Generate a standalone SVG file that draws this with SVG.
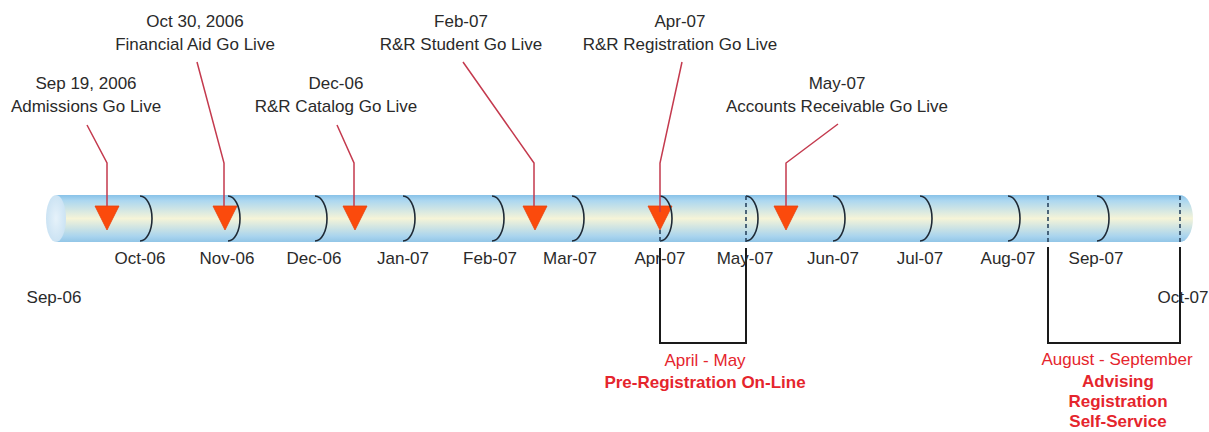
<svg xmlns="http://www.w3.org/2000/svg" width="1209" height="432" viewBox="0 0 1209 432">
  <style>
    .lbl { font-family: "Liberation Sans", Arial, sans-serif; font-size: 17px; fill: #2a2a2a; text-anchor: middle; }
    .red { font-family: "Liberation Sans", Arial, sans-serif; font-size: 17px; fill: #e5252d; text-anchor: middle; }
    .bold { font-weight: bold; }
    .divider { fill: none; stroke: #1f2a36; stroke-width: 1.6; }
    .dash { fill: none; stroke: #2a4560; stroke-width: 1.6; stroke-dasharray: 4 3; }
    .bracket { fill: none; stroke: #1a1a1a; stroke-width: 2; }
    .pointer { fill: none; stroke: #c43a4e; stroke-width: 1.5; }
    .marker { fill: #fb4a0c; stroke: #e8400a; stroke-width: 0.8; }
  </style>
  <defs>
    <linearGradient id="tubeFill" x1="0" y1="0" x2="0" y2="1">
      <stop offset="0" stop-color="#88c2e8"/>
      <stop offset="0.12" stop-color="#acd7f0"/>
      <stop offset="0.5" stop-color="#f5f4d8"/>
      <stop offset="0.88" stop-color="#a9d4ee"/>
      <stop offset="1" stop-color="#92c6e7"/>
    </linearGradient>
    <radialGradient id="capFill" cx="0.5" cy="0.5" r="0.6">
      <stop offset="0" stop-color="#e6f2fa"/>
      <stop offset="1" stop-color="#c6e0f2"/>
    </radialGradient>
  </defs>

  <rect width="1209" height="432" fill="#ffffff"/>

  <!-- timeline tube -->
  <g id="tube">
    <path d="M56,195 H1180 A13,23.5 0 0 1 1180,242 H56 Z" fill="url(#tubeFill)"/>
    <ellipse cx="56" cy="218.5" rx="10" ry="23.5" fill="url(#capFill)"/>
  </g>

  <!-- milestone markers -->
  <g id="markers">
    <polygon class="marker" points="95,206 119,206 107,230"/>
    <polygon class="marker" points="213,206 237,206 225,230"/>
    <polygon class="marker" points="343,206 367,206 355,230"/>
    <polygon class="marker" points="523,206 547,206 535,230"/>
    <polygon class="marker" points="648,206 672,206 660,230"/>
    <polygon class="marker" points="774,206 798,206 786,230"/>
  </g>

  <!-- month dividers -->
  <g id="dividers">
    <path class="divider" d="M140,196 A12,22.5 0 0 1 140,241"/>
    <path class="divider" d="M228,196 A12,22.5 0 0 1 228,241"/>
    <path class="divider" d="M315,196 A12,22.5 0 0 1 315,241"/>
    <path class="divider" d="M403,196 A12,22.5 0 0 1 403,241"/>
    <path class="divider" d="M492,196 A12,22.5 0 0 1 492,241"/>
    <path class="divider" d="M572,196 A12,22.5 0 0 1 572,241"/>
    <path class="divider" d="M660,196 A12,22.5 0 0 1 660,241"/>
    <path class="divider" d="M746,196 A12,22.5 0 0 1 746,241"/>
    <path class="divider" d="M833,196 A12,22.5 0 0 1 833,241"/>
    <path class="divider" d="M920,196 A12,22.5 0 0 1 920,241"/>
    <path class="divider" d="M1008,196 A12,22.5 0 0 1 1008,241"/>
    <path class="divider" d="M1097,196 A12,22.5 0 0 1 1097,241"/>
    <line class="dash" x1="660" y1="230" x2="660" y2="243"/>
    <line class="dash" x1="746" y1="196" x2="746" y2="243"/>
    <line class="dash" x1="1048" y1="196" x2="1048" y2="243"/>
    <line class="dash" x1="1180" y1="196" x2="1180" y2="243"/>
  </g>

  <!-- pointer connectors from labels to markers -->
  <g id="connectors">
    <polyline class="pointer" points="87,125 107,163 107,206"/>
    <polyline class="pointer" points="197,62 224,163 224,206"/>
    <polyline class="pointer" points="337,125 354,163 354,206"/>
    <polyline class="pointer" points="463,62 534,163 534,206"/>
    <polyline class="pointer" points="682,62 660,163 660,212"/>
    <polyline class="pointer" points="838,124 786,163 786,206"/>
  </g>

  <!-- period brackets -->
  <g id="brackets">
    <polyline class="bracket" points="660,248 660,343 746,343 746,248"/>
    <polyline class="bracket" points="1048,247 1048,343 1180,343 1180,247"/>
  </g>

  <!-- month labels -->
  <g id="months">
    <text class="lbl" x="54" y="303">Sep-06</text>
    <text class="lbl" x="140" y="264">Oct-06</text>
    <text class="lbl" x="227" y="264">Nov-06</text>
    <text class="lbl" x="314" y="264">Dec-06</text>
    <text class="lbl" x="403" y="264">Jan-07</text>
    <text class="lbl" x="490" y="264">Feb-07</text>
    <text class="lbl" x="570" y="264">Mar-07</text>
    <text class="lbl" x="660" y="264">Apr-07</text>
    <text class="lbl" x="745" y="264">May-07</text>
    <text class="lbl" x="833" y="264">Jun-07</text>
    <text class="lbl" x="920" y="264">Jul-07</text>
    <text class="lbl" x="1008" y="264">Aug-07</text>
    <text class="lbl" x="1096" y="264">Sep-07</text>
    <text class="lbl" x="1183" y="303">Oct-07</text>
  </g>

  <!-- milestone labels -->
  <g id="ms-admissions">
    <text class="lbl" x="86" y="89">Sep 19, 2006</text>
    <text class="lbl" x="86" y="112">Admissions Go Live</text>
  </g>
  <g id="ms-finaid">
    <text class="lbl" x="195" y="27">Oct 30, 2006</text>
    <text class="lbl" x="195" y="50">Financial Aid Go Live</text>
  </g>
  <g id="ms-catalog">
    <text class="lbl" x="336" y="89">Dec-06</text>
    <text class="lbl" x="336" y="112">R&amp;R Catalog Go Live</text>
  </g>
  <g id="ms-student">
    <text class="lbl" x="461" y="27">Feb-07</text>
    <text class="lbl" x="461" y="50">R&amp;R Student Go Live</text>
  </g>
  <g id="ms-registration">
    <text class="lbl" x="680" y="27">Apr-07</text>
    <text class="lbl" x="680" y="50">R&amp;R Registration Go Live</text>
  </g>
  <g id="ms-receivable">
    <text class="lbl" x="837" y="89">May-07</text>
    <text class="lbl" x="837" y="112">Accounts Receivable Go Live</text>
  </g>

  <!-- period captions -->
  <g id="period-prereg">
    <text class="red" x="705" y="366">April - May</text>
    <text class="red bold" x="705" y="388">Pre-Registration On-Line</text>
  </g>
  <g id="period-advising">
    <text class="red" x="1117" y="365">August - September</text>
    <text class="red bold" x="1118" y="387">Advising</text>
    <text class="red bold" x="1118" y="407">Registration</text>
    <text class="red bold" x="1118" y="427">Self-Service</text>
  </g>
</svg>
